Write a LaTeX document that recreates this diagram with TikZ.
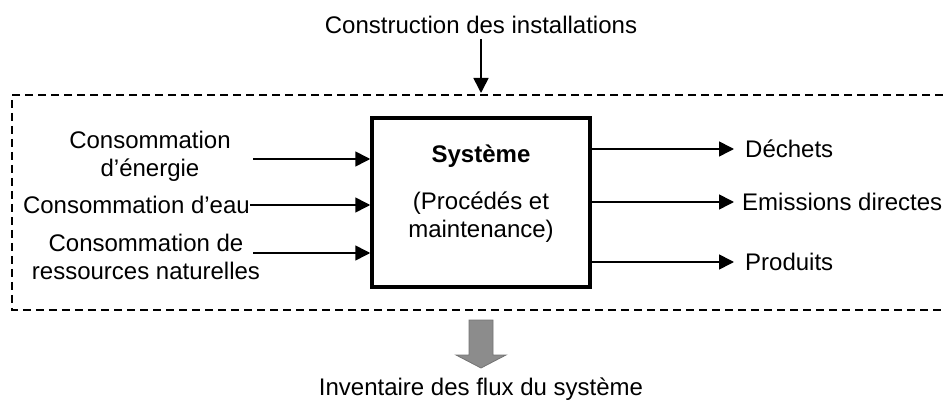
\documentclass[tikz,border=0pt]{standalone}
\usepackage{fontspec}
\setmainfont{Liberation Sans}
\usetikzlibrary{arrows.meta}
\tikzset{
  lbl/.style={font=\fontsize{24}{28}\selectfont, inner sep=0pt, align=center},
  arr/.style={line width=1.6pt, -{Triangle[length=15pt,width=15pt]}},
  dashbox/.style={line width=1.3pt, dash pattern=on 8pt off 5pt},
  sysbox/.style={draw, line width=3.5pt, minimum width=218pt, minimum height=169pt, inner sep=0pt},
  bigarrow/.style={fill=black!45, draw=black!55, line width=0.8pt}
}
\begin{document}
\begin{tikzpicture}[x=1pt,y=-1pt]
\useasboundingbox (0,0) rectangle (943,406);
% dashed boundary
\draw[dashbox] (943,95) -- (12,95) -- (12,310) -- (943,310);
% system box
\node[sysbox] (sys) at (481,202.5) {};
\node[lbl, font=\fontsize{24}{28}\selectfont\bfseries] (systitle) at (481,156) {Système};
\node[lbl] (sysdesc) at (481,217) {(Procédés et\\maintenance)};
% top
\node[lbl] (constr) at (481,25) {Construction des installations};
\coordinate (topstart) at (481,39);
\coordinate (topend) at (481,93);
\draw[arr] (topstart) -- (topend);
% inputs
\node[lbl] (in1) at (150,156) {Consommation\\d’énergie};
\node[lbl, anchor=east] (in2) at (250,205) {Consommation d’eau};
\node[lbl] (in3) at (146,257) {Consommation de\\ressources naturelles};
\coordinate (s1) at (253,159);
\coordinate (s3) at (253,253);
\draw[arr] (s1) -- (s1 -| sys.west);
\draw[arr] (in2.east) -- (in2.east -| sys.west);
\draw[arr] (s3) -- (s3 -| sys.west);
% outputs
\node[lbl, anchor=west] (out1) at (745,149) {Déchets};
\node[lbl, anchor=west] (out2) at (742,202) {Emissions directes};
\node[lbl, anchor=west] (out3) at (745,262) {Produits};
\draw[arr] (sys.east |- out1.west) -- ([xshift=-11pt]out1.west);
\draw[arr] (sys.east |- out2.west) -- ([xshift=-8pt]out2.west);
\draw[arr] (sys.east |- out3.west) -- ([xshift=-11pt]out3.west);
% result arrow
\draw[bigarrow] (469,320) -- (493,320) -- (493,355) -- (506,355) -- (481,368) -- (456,355) -- (469,355) -- cycle;
\node[lbl] (inv) at (481,389) {Inventaire des flux du système};
\end{tikzpicture}
\end{document}
